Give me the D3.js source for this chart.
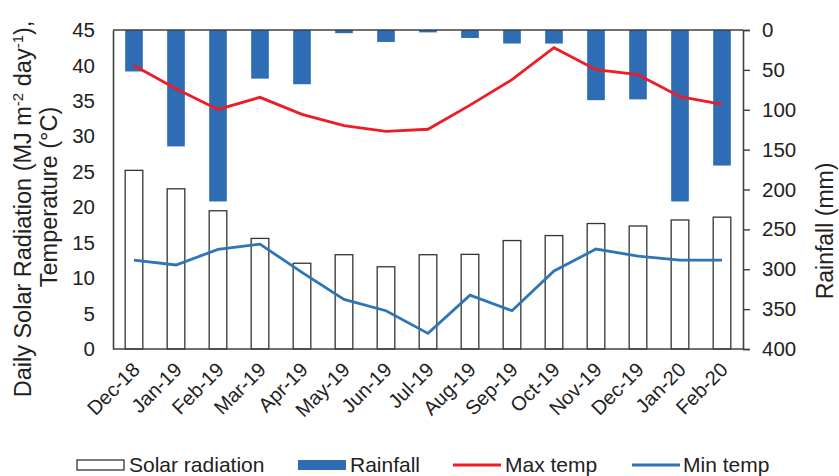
<!DOCTYPE html>
<html>
<head>
<meta charset="utf-8">
<script src="https://cdn.jsdelivr.net/npm/d3@7"></script>
<style>
  body { margin: 0; background: #fff; }
  text { font-family: "Liberation Sans", Arial, sans-serif; fill: #222; }
</style>
</head>
<body>
<div id="graph"></div>
<script>
// data
const months = ["Dec-18", "Jan-19", "Feb-19", "Mar-19", "Apr-19", "May-19", "Jun-19", "Jul-19",
  "Aug-19", "Sep-19", "Oct-19", "Nov-19", "Dec-19", "Jan-20", "Feb-20"];
const solar = [25.2, 22.6, 19.5, 15.6, 12.1, 13.3, 11.6, 13.3, 13.35, 15.3, 16.0, 17.7, 17.35, 18.2, 18.6];
const rainfall = [52, 146, 215, 61, 68, 4, 15, 3, 10, 17, 17, 88, 87, 215, 170];
const maxTemp = [40.0, 36.7, 33.8, 35.5, 33.1, 31.5, 30.7, 31.0, 34.4, 38.0, 42.5, 39.4, 38.7, 35.6, 34.5];
const minTemp = [12.55, 11.85, 14.05, 14.8, 10.8, 7.0, 5.4, 2.2, 7.6, 5.4, 11.0, 14.1, 13.1, 12.55, 12.55];
const leftTicks = [0, 5, 10, 15, 20, 25, 30, 35, 40, 45];
const rightTicks = [0, 50, 100, 150, 200, 250, 300, 350, 400];

const width = 839;
const height = 476;
const margin = { top: 30, right: 96, bottom: 127, left: 113 };
const axisColor = "#404040";
const rainBlue = "#2E6DB4";
const lineBlue = "#2E75B6";
const red = "#EE1C25";

const svg = d3.select("#graph")
  .append("svg")
  .attr("width", width)
  .attr("height", height);

const x = d3.scaleBand()
  .domain(months)
  .range([margin.left, width - margin.right]);

const yLeft = d3.scaleLinear()
  .domain([0, 45])
  .range([height - margin.bottom, margin.top]);

const yRight = d3.scaleLinear()
  .domain([0, 400])
  .range([margin.top, height - margin.bottom]);

const barW = x.bandwidth() * 0.42;
const cx = function(m) { return x(m) + x.bandwidth() / 2; };

// solar radiation bars (open)
svg.append("g")
  .selectAll("rect")
  .data(months)
  .join("rect")
  .attr("x", function(d) { return cx(d) - barW / 2; })
  .attr("y", function(d, i) { return yLeft(solar[i]); })
  .attr("width", barW)
  .attr("height", function(d, i) { return yLeft(0) - yLeft(solar[i]); })
  .attr("fill", "#fff")
  .attr("stroke", "#333")
  .attr("stroke-width", 1.3);

// rainfall bars hanging from the top
svg.append("g")
  .selectAll("rect")
  .data(months)
  .join("rect")
  .attr("x", function(d) { return cx(d) - barW / 2; })
  .attr("y", yRight(0))
  .attr("width", barW)
  .attr("height", function(d, i) { return yRight(rainfall[i]) - yRight(0); })
  .attr("fill", rainBlue);

const line = function(vals) {
  return d3.line()
    .x(function(d, i) { return cx(months[i]); })
    .y(function(d) { return yLeft(d); })(vals);
};

svg.append("path")
  .attr("d", line(maxTemp))
  .attr("fill", "none")
  .attr("stroke", red)
  .attr("stroke-width", 2.8);

svg.append("path")
  .attr("d", line(minTemp))
  .attr("fill", "none")
  .attr("stroke", lineBlue)
  .attr("stroke-width", 2.8);

// axes
const leftAxis = svg.append("g")
  .attr("transform", "translate(" + margin.left + ",0)")
  .call(d3.axisLeft(yLeft).tickValues(leftTicks).tickSize(0).tickPadding(18));

const rightAxis = svg.append("g")
  .attr("transform", "translate(" + (width - margin.right) + ",0)")
  .call(d3.axisRight(yRight).tickValues(rightTicks).tickSize(7).tickPadding(12));

[leftAxis, rightAxis].forEach(function(a) {
  a.select(".domain").attr("stroke", axisColor).attr("stroke-width", 1.6);
  a.selectAll(".tick line").attr("stroke", axisColor).attr("stroke-width", 1.4);
  a.selectAll(".tick text")
    .attr("font-size", "20.5px")
    .attr("font-family", "Liberation Sans, Arial, sans-serif")
    .attr("fill", "#222");
});

// top and bottom frame lines
svg.append("line")
  .attr("x1", margin.left).attr("x2", width - margin.right)
  .attr("y1", yRight(0)).attr("y2", yRight(0))
  .attr("stroke", axisColor).attr("stroke-width", 1.6);
svg.append("line")
  .attr("x1", margin.left).attr("x2", width - margin.right)
  .attr("y1", yLeft(0)).attr("y2", yLeft(0))
  .attr("stroke", axisColor).attr("stroke-width", 1.6);

// month labels
svg.append("g")
  .selectAll("text")
  .data(months)
  .join("text")
  .attr("transform", function(d) {
    return "translate(" + (cx(d) + 7) + "," + (yLeft(0) + 22) + ") rotate(-45)";
  })
  .attr("text-anchor", "end")
  .attr("font-size", "20px")
  .text(function(d) { return d; });

// axis titles
const lt = svg.append("text")
  .attr("transform", "translate(31,209) rotate(-90)")
  .attr("text-anchor", "middle")
  .attr("font-size", "23.5px");
lt.append("tspan").text("Daily Solar Radiation (MJ m");
lt.append("tspan").attr("baseline-shift", "super").attr("font-size", "15px").text("-2");
lt.append("tspan").text(" day");
lt.append("tspan").attr("baseline-shift", "super").attr("font-size", "15px").text("-1");
lt.append("tspan").text("),");

svg.append("text")
  .attr("transform", "translate(57,197) rotate(-90)")
  .attr("text-anchor", "middle")
  .attr("font-size", "23.5px")
  .text("Temperature (°C)");

svg.append("text")
  .attr("transform", "translate(833,231) rotate(-90)")
  .attr("text-anchor", "middle")
  .attr("font-size", "23px")
  .text("Rainfall (mm)");

// legend
const legendY = 465;
const legend = svg.append("g");
legend.append("rect")
  .attr("x", 77).attr("y", legendY - 5).attr("width", 47).attr("height", 10)
  .attr("fill", "#fff").attr("stroke", "#333").attr("stroke-width", 1.3);
legend.append("text").attr("x", 129).attr("y", legendY + 7).attr("font-size", "21px").text("Solar radiation");
legend.append("rect")
  .attr("x", 298).attr("y", legendY - 5).attr("width", 48).attr("height", 10)
  .attr("fill", rainBlue);
legend.append("text").attr("x", 350).attr("y", legendY + 7).attr("font-size", "21px").text("Rainfall");
legend.append("line")
  .attr("x1", 453).attr("x2", 501).attr("y1", legendY).attr("y2", legendY)
  .attr("stroke", red).attr("stroke-width", 2.8);
legend.append("text").attr("x", 505).attr("y", legendY + 7).attr("font-size", "21px").text("Max temp");
legend.append("line")
  .attr("x1", 632).attr("x2", 680).attr("y1", legendY).attr("y2", legendY)
  .attr("stroke", lineBlue).attr("stroke-width", 2.8);
legend.append("text").attr("x", 683).attr("y", legendY + 7).attr("font-size", "21px").text("Min temp");
</script>
</body>
</html>
